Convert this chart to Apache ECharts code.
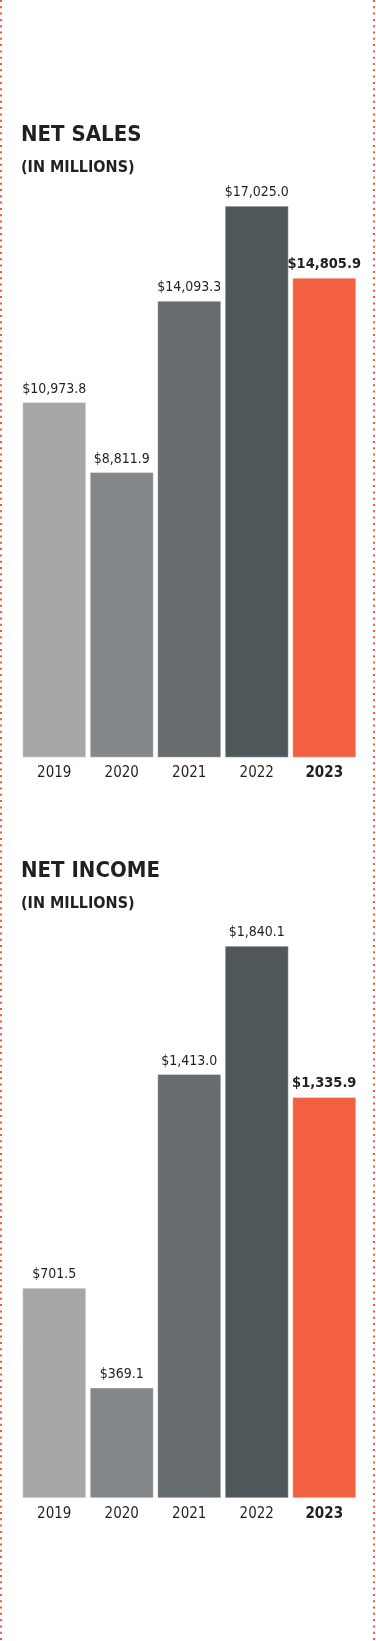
<!DOCTYPE html>
<html>
<head>
<meta charset="utf-8">
<script src="https://cdn.jsdelivr.net/npm/echarts@6/dist/echarts.min.js"></script>
<style>
  html, body { margin: 0; padding: 0; background: #fff; }
  #chart { width: 376px; height: 1641px; }
</style>
</head>
<body>
<div id="chart"></div>
<script>
// data
const years = ['2019', '2020', '2021', '2022', '2023'];
const netSales = [10973.8, 8811.9, 14093.3, 17025.0, 14805.9];
const netIncome = [701.5, 369.1, 1413.0, 1840.1, 1335.9];
const barColors = ['#a6a7a9', '#85888a', '#676c6e', '#50575a', '#f26041'];

const narrow = '"Liberation Sans Narrow", "DejaVu Sans Condensed", "Liberation Sans", sans-serif';
const inkColor = '#231f20';
const lastIdx = years.length - 1;

const fmtMoney = (v) =>
  '$' + v.toLocaleString('en-US', { minimumFractionDigits: 1, maximumFractionDigits: 1 });

const makeData = (values) =>
  values.map((v, i) => ({
    value: v,
    itemStyle: { color: barColors[i] },
    label: i === lastIdx ? { fontWeight: 'bold', fontSize: 14.5 } : {}
  }));

const makeSeries = (values, idx) => ({
  type: 'bar',
  xAxisIndex: idx,
  yAxisIndex: idx,
  barWidth: 64,
  itemStyle: { borderColor: 'rgba(255,255,255,0.35)', borderWidth: 1 },
  label: {
    show: true,
    position: 'top',
    distance: 6,
    color: inkColor,
    fontFamily: narrow,
    fontSize: 14,
    formatter: (p) => fmtMoney(p.value)
  },
  data: makeData(values)
});

const makeXAxis = (idx) => ({
  type: 'category',
  gridIndex: idx,
  data: years,
  axisLine: { show: false },
  axisTick: { show: false },
  axisLabel: {
    interval: 0,
    margin: 8,
    color: inkColor,
    fontFamily: narrow,
    fontSize: 15,
    formatter: (v) => (v === years[lastIdx] ? '{b|' + v + '}' : v),
    rich: { b: { fontWeight: 'bold', fontSize: 15, fontFamily: narrow, color: inkColor } }
  }
});

const makeYAxis = (idx) => ({
  type: 'value',
  gridIndex: idx,
  show: false,
  min: 0,
  max: (v) => v.max
});

const heading = (text, y, size) => ({
  type: 'text',
  left: 21,
  top: y,
  style: {
    text: text,
    fill: inkColor,
    font: 'bold ' + size + 'px ' + narrow
  }
});

const dottedEdge = (x) => ({
  type: 'line',
  shape: { x1: x, y1: 0, x2: x, y2: 1641 },
  style: { stroke: '#f05a3a', lineWidth: 2, lineDash: [2, 4.3] },
  silent: true
});

const chart = echarts.init(document.getElementById('chart'), null, { renderer: 'canvas' });

chart.setOption({
  animation: false,
  backgroundColor: '#fff',
  grid: [
    { left: 20.5, right: 18, top: 205.7, height: 552 },
    { left: 20.5, right: 18, top: 945.7, height: 552.6 }
  ],
  xAxis: [makeXAxis(0), makeXAxis(1)],
  yAxis: [makeYAxis(0), makeYAxis(1)],
  series: [makeSeries(netSales, 0), makeSeries(netIncome, 1)],
  graphic: [
    dottedEdge(1),
    dottedEdge(374),
    heading('NET SALES', 124.5, 22),
    heading('(IN MILLIONS)', 160, 16),
    heading('NET INCOME', 860.5, 22),
    heading('(IN MILLIONS)', 896, 16)
  ]
});
</script>
</body>
</html>
